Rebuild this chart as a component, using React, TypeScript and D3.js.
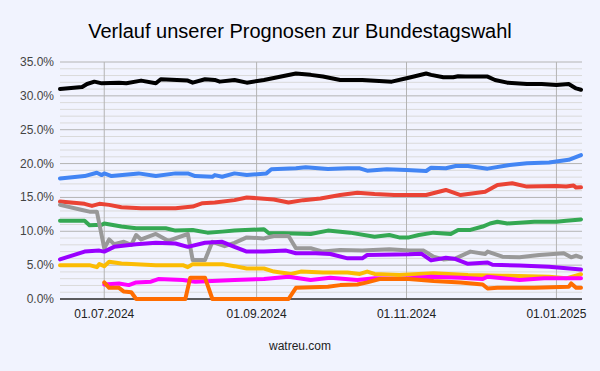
import React from "react";
import * as d3 from "d3";

type Pt = [string, number];

const title = "Verlauf unserer Prognosen zur Bundestagswahl";
const source = "watreu.com";
const xTicks = ["2024-07-01", "2024-09-01", "2024-11-01", "2025-01-01"];
const yMajor = [0, 5, 10, 15, 20, 25, 30, 35];

const cdu: Pt[] = [
  ["2024-06-13", 31.0], ["2024-06-22", 31.3], ["2024-06-24", 31.75], ["2024-06-27", 32.1],
  ["2024-06-30", 31.85], ["2024-07-07", 31.95], ["2024-07-10", 31.85], ["2024-07-16", 32.25],
  ["2024-07-22", 31.85], ["2024-07-24", 32.45], ["2024-08-04", 32.25], ["2024-08-06", 31.95],
  ["2024-08-11", 32.45], ["2024-08-15", 32.35], ["2024-08-17", 32.1], ["2024-08-23", 32.35],
  ["2024-08-28", 31.95], ["2024-09-04", 32.35], ["2024-09-11", 32.85], ["2024-09-17", 33.3],
  ["2024-09-23", 33.1], ["2024-09-28", 32.85], ["2024-10-05", 32.35], ["2024-10-14", 32.35],
  ["2024-10-26", 32.1], ["2024-11-01", 32.6], ["2024-11-04", 32.85], ["2024-11-09", 33.3],
  ["2024-11-11", 33.1], ["2024-11-16", 32.75], ["2024-11-20", 32.75], ["2024-11-22", 32.9],
  ["2024-11-25", 32.85], ["2024-12-04", 32.85], ["2024-12-07", 32.35], ["2024-12-12", 31.95],
  ["2024-12-20", 31.75], ["2024-12-26", 31.75], ["2025-01-01", 31.6], ["2025-01-06", 31.75],
  ["2025-01-09", 31.1], ["2025-01-11", 30.9],
];

const afd: Pt[] = [
  ["2024-06-13", 17.8], ["2024-06-23", 18.15], ["2024-06-28", 18.65], ["2024-06-30", 18.3],
  ["2024-07-01", 18.55], ["2024-07-04", 18.15], ["2024-07-15", 18.55], ["2024-07-22", 18.15],
  ["2024-07-30", 18.55], ["2024-08-04", 18.55], ["2024-08-07", 18.15], ["2024-08-14", 18.05],
  ["2024-08-15", 18.3], ["2024-08-18", 18.05], ["2024-08-23", 18.55], ["2024-08-28", 18.3],
  ["2024-09-05", 18.55], ["2024-09-07", 19.15], ["2024-09-17", 19.3], ["2024-09-21", 19.45],
  ["2024-09-30", 19.2], ["2024-10-08", 19.3], ["2024-10-13", 19.3], ["2024-10-16", 18.95],
  ["2024-10-24", 19.15], ["2024-11-01", 19.05], ["2024-11-09", 18.9], ["2024-11-11", 19.4],
  ["2024-11-17", 19.3], ["2024-11-21", 19.65], ["2024-11-26", 19.65], ["2024-12-04", 19.25],
  ["2024-12-13", 19.8], ["2024-12-20", 20.05], ["2024-12-29", 20.15], ["2025-01-06", 20.55],
  ["2025-01-11", 21.25],
];

const spd: Pt[] = [
  ["2024-06-13", 14.4], ["2024-06-23", 14.05], ["2024-06-26", 13.75], ["2024-06-29", 14.05],
  ["2024-07-03", 13.9], ["2024-07-08", 13.55], ["2024-07-16", 13.4], ["2024-07-30", 13.4],
  ["2024-08-06", 13.65], ["2024-08-10", 14.15], ["2024-08-15", 14.25], ["2024-08-23", 14.6],
  ["2024-08-28", 15.0], ["2024-09-08", 14.7], ["2024-09-14", 14.25], ["2024-09-20", 14.6],
  ["2024-09-27", 14.85], ["2024-10-05", 15.35], ["2024-10-12", 15.7], ["2024-10-19", 15.5],
  ["2024-10-27", 15.35], ["2024-11-09", 15.35], ["2024-11-17", 16.1], ["2024-11-23", 15.35],
  ["2024-12-03", 15.85], ["2024-12-08", 16.85], ["2024-12-14", 17.1], ["2024-12-20", 16.6],
  ["2025-01-01", 16.7], ["2025-01-05", 16.6], ["2025-01-08", 16.75], ["2025-01-09", 16.45],
  ["2025-01-11", 16.5],
];

const gruene: Pt[] = [
  ["2024-06-13", 11.55], ["2024-06-23", 11.55], ["2024-06-25", 10.9], ["2024-06-30", 10.95],
  ["2024-07-01", 11.15], ["2024-07-08", 10.7], ["2024-07-14", 10.45], ["2024-07-26", 10.45],
  ["2024-07-30", 10.1], ["2024-08-06", 10.2], ["2024-08-12", 9.8], ["2024-08-18", 9.95],
  ["2024-08-23", 10.1], ["2024-09-04", 10.3], ["2024-09-06", 9.7], ["2024-09-12", 9.7],
  ["2024-09-23", 9.6], ["2024-09-30", 10.1], ["2024-10-09", 9.8], ["2024-10-19", 9.2],
  ["2024-10-25", 9.45], ["2024-10-29", 9.1], ["2024-11-02", 9.1], ["2024-11-06", 9.45],
  ["2024-11-12", 9.8], ["2024-11-19", 9.6], ["2024-11-22", 10.2], ["2024-11-27", 10.2],
  ["2024-12-02", 10.7], ["2024-12-05", 11.15], ["2024-12-08", 11.4], ["2024-12-12", 11.15],
  ["2024-12-23", 11.4], ["2025-01-01", 11.4], ["2025-01-05", 11.55], ["2025-01-11", 11.75],
];

const sonstige: Pt[] = [
  ["2024-06-13", 13.9], ["2024-06-22", 13.15], ["2024-06-25", 12.9], ["2024-06-28", 12.9],
  ["2024-07-01", 7.5], ["2024-07-03", 8.8], ["2024-07-05", 8.1], ["2024-07-09", 8.45],
  ["2024-07-12", 8.0], ["2024-07-14", 9.45], ["2024-07-16", 8.8], ["2024-07-22", 9.6],
  ["2024-07-27", 8.6], ["2024-08-04", 9.6], ["2024-08-06", 5.75], ["2024-08-11", 5.75],
  ["2024-08-14", 8.45], ["2024-08-19", 7.8], ["2024-08-23", 8.3], ["2024-08-28", 9.1],
  ["2024-09-04", 8.95], ["2024-09-08", 9.3], ["2024-09-14", 9.3], ["2024-09-17", 7.5],
  ["2024-09-23", 7.5], ["2024-09-28", 7.0], ["2024-10-05", 7.25], ["2024-10-14", 7.15],
  ["2024-10-25", 7.35], ["2024-11-02", 7.15], ["2024-11-08", 7.15], ["2024-11-12", 6.25],
  ["2024-11-16", 5.85], ["2024-11-21", 6.0], ["2024-11-27", 7.0], ["2024-12-03", 6.65],
  ["2024-12-04", 7.0], ["2024-12-10", 6.25], ["2024-12-17", 6.15], ["2024-12-25", 6.5],
  ["2025-01-04", 6.75], ["2025-01-07", 6.15], ["2025-01-09", 6.4], ["2025-01-11", 6.15],
];

const bsw: Pt[] = [
  ["2024-06-13", 5.85], ["2024-06-23", 7.0], ["2024-06-29", 7.15], ["2024-07-01", 7.0],
  ["2024-07-05", 7.7], ["2024-07-14", 8.1], ["2024-07-22", 8.3], ["2024-07-30", 8.2],
  ["2024-08-04", 7.7], ["2024-08-11", 8.3], ["2024-08-18", 8.45], ["2024-08-23", 7.7],
  ["2024-08-28", 7.0], ["2024-09-04", 7.0], ["2024-09-13", 7.15], ["2024-09-17", 6.75],
  ["2024-09-25", 6.75], ["2024-10-01", 6.65], ["2024-10-08", 6.0], ["2024-10-14", 6.0],
  ["2024-10-16", 6.5], ["2024-11-02", 6.6], ["2024-11-07", 6.7], ["2024-11-11", 5.7],
  ["2024-11-17", 6.1], ["2024-11-21", 5.9], ["2024-11-26", 5.2], ["2024-12-04", 5.4],
  ["2024-12-06", 5.05], ["2024-12-17", 4.95], ["2024-12-29", 4.75], ["2025-01-11", 4.35],
];

const fdp: Pt[] = [
  ["2024-06-13", 5.0], ["2024-06-25", 5.0], ["2024-06-28", 4.7], ["2024-06-29", 5.15],
  ["2024-07-01", 4.85], ["2024-07-03", 5.5], ["2024-07-08", 5.25], ["2024-07-22", 5.0],
  ["2024-08-02", 5.0], ["2024-08-04", 4.7], ["2024-08-06", 5.15], ["2024-08-18", 5.15],
  ["2024-08-23", 4.85], ["2024-08-28", 4.5], ["2024-09-04", 4.5], ["2024-09-08", 4.05],
  ["2024-09-15", 3.7], ["2024-09-19", 4.05], ["2024-09-28", 3.9], ["2024-10-08", 3.9],
  ["2024-10-13", 3.7], ["2024-10-16", 4.05], ["2024-10-19", 3.7], ["2024-10-29", 3.55],
  ["2024-11-12", 3.8], ["2024-11-26", 3.55], ["2024-12-10", 3.45], ["2024-12-29", 3.3],
  ["2025-01-05", 3.05], ["2025-01-11", 3.65],
];

const linke: Pt[] = [
  ["2024-07-01", 2.15], ["2024-07-07", 2.3], ["2024-07-11", 2.05], ["2024-07-14", 2.45],
  ["2024-07-20", 2.55], ["2024-07-23", 2.95], ["2024-08-02", 2.8], ["2024-08-07", 2.55],
  ["2024-08-23", 2.8], ["2024-09-04", 2.95], ["2024-09-14", 3.3], ["2024-09-23", 2.8],
  ["2024-10-01", 3.15], ["2024-10-12", 2.8], ["2024-10-19", 3.05], ["2024-10-29", 2.95],
  ["2024-11-11", 3.3], ["2024-11-23", 3.15], ["2024-12-02", 2.95], ["2024-12-04", 3.3],
  ["2024-12-17", 2.8], ["2024-12-27", 3.05], ["2025-01-11", 3.05],
];

const fw: Pt[] = [
  ["2024-07-01", 2.45], ["2024-07-03", 1.65], ["2024-07-07", 1.65], ["2024-07-09", 1.1],
  ["2024-07-12", 1.0], ["2024-07-14", 0], ["2024-08-03", 0], ["2024-08-05", 3.15],
  ["2024-08-11", 3.15], ["2024-08-14", 0], ["2024-09-14", 0], ["2024-09-17", 1.65],
  ["2024-09-30", 1.8], ["2024-10-05", 2.05], ["2024-10-12", 2.15], ["2024-10-16", 2.45],
  ["2024-10-21", 2.95], ["2024-11-02", 2.95], ["2024-11-12", 2.65], ["2024-11-23", 2.45],
  ["2024-12-02", 2.15], ["2024-12-04", 1.55], ["2024-12-08", 1.65], ["2024-12-23", 1.65],
  ["2025-01-06", 1.8], ["2025-01-07", 2.3], ["2025-01-09", 1.65], ["2025-01-11", 1.65],
];

const seriesList: { name: string; color: string; data: Pt[] }[] = [
  { name: "CDU/CSU", color: "#000000", data: cdu },
  { name: "AfD", color: "#4285f4", data: afd },
  { name: "SPD", color: "#ea4335", data: spd },
  { name: "Grüne", color: "#34a853", data: gruene },
  { name: "Sonstige", color: "#999999", data: sonstige },
  { name: "BSW", color: "#9900ff", data: bsw },
  { name: "FDP", color: "#fbbc04", data: fdp },
  { name: "Linke", color: "#ff00ff", data: linke },
  { name: "FW", color: "#ff6d01", data: fw },
];

const parse = d3.timeParse("%Y-%m-%d");

export default function App() {
  const W = 600;
  const H = 371;
  const left = 60;
  const right = 582;
  const top = 62;
  const bottom = 299;

  const x = d3
    .scaleTime()
    .domain([parse("2024-06-13")!, parse("2025-01-11")!])
    .range([left, 581]);
  const y = d3.scaleLinear().domain([0, 35]).range([bottom, top]);

  const line = d3
    .line<Pt>()
    .x((d) => x(parse(d[0])!))
    .y((d) => y(d[1]));

  const minor = d3.range(0, 36, 1).filter((v) => v % 5 !== 0);
  const fmt = d3.format(".1f");
  const font = "Arial, 'Liberation Sans', sans-serif";

  return (
    <svg
      width={W}
      height={H}
      style={{ position: "absolute", left: 0, top: 0, fontFamily: font }}
    >
      <rect x={0} y={0} width={W} height={H} fill="#f1f3fe" />
      <text x={300} y={38} textAnchor="middle" fontSize={20} fill="#000">
        {title}
      </text>
      {minor.map((v) => (
        <line key={"m" + v} x1={left} x2={right} y1={y(v)} y2={y(v)} stroke="#dadada" strokeWidth={1} />
      ))}
      {yMajor.map((v) => (
        <line key={"M" + v} x1={left} x2={right} y1={y(v)} y2={y(v)} stroke="#b4b4b4" strokeWidth={1} />
      ))}
      {xTicks.map((t) => (
        <line key={"v" + t} x1={x(parse(t)!)} x2={x(parse(t)!)} y1={top} y2={bottom} stroke="#b4b4b4" strokeWidth={1} />
      ))}
      {yMajor.map((v) => (
        <text key={"yl" + v} x={54} y={y(v) + 4} textAnchor="end" fontSize={12} fill="#444">
          {fmt(v) + "%"}
        </text>
      ))}
      {xTicks.map((t) => (
        <text key={"xl" + t} x={x(parse(t)!)} y={318} textAnchor="middle" fontSize={12} fill="#222">
          {d3.timeFormat("%d.%m.%Y")(parse(t)!)}
        </text>
      ))}
      <line x1={left} x2={right} y1={bottom} y2={bottom} stroke="#333" strokeWidth={1.5} />
      {seriesList.map((s) => (
        <path
          key={s.name}
          d={line(s.data) || ""}
          fill="none"
          stroke={s.color}
          strokeWidth={4}
          strokeLinejoin="round"
          strokeLinecap="round"
        />
      ))}
      <text x={300} y={350} textAnchor="middle" fontSize={12} fill="#222">
        {source}
      </text>
    </svg>
  );
}
